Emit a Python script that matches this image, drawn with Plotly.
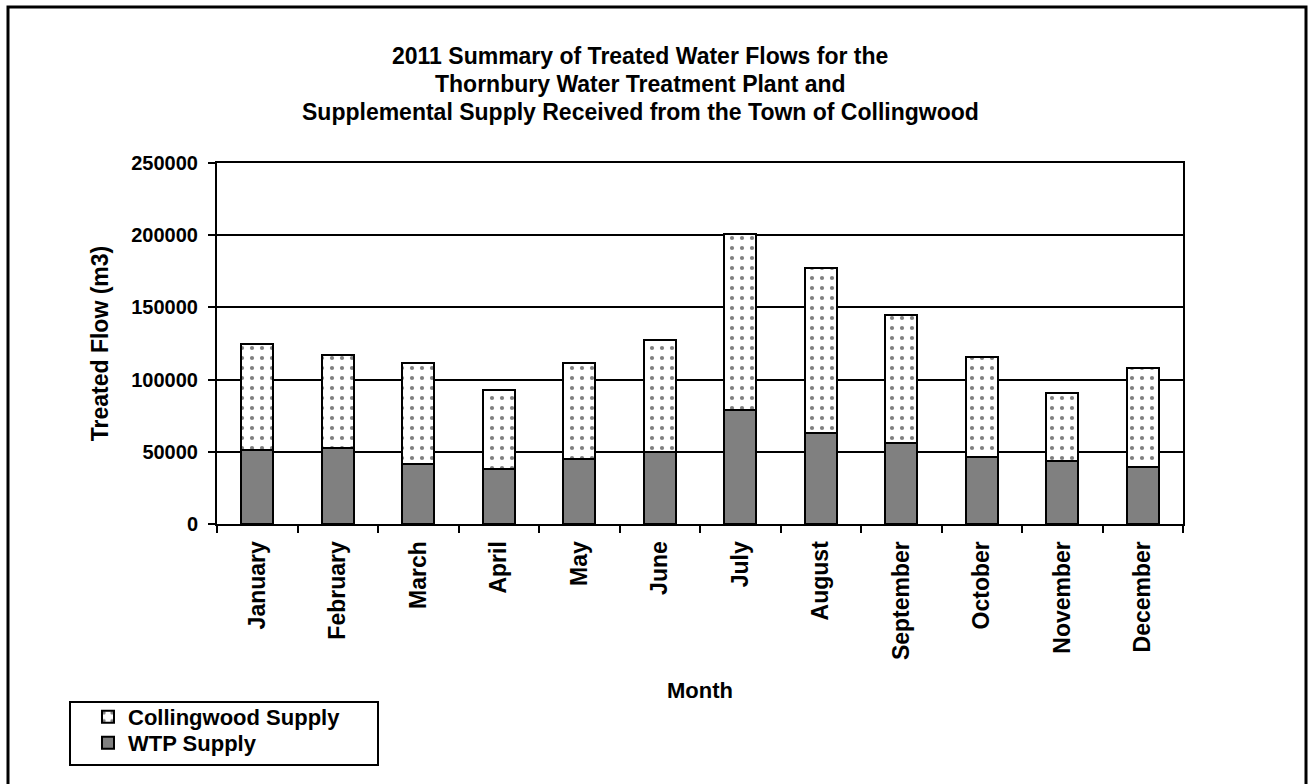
import plotly.graph_objects as go

months = ["January", "February", "March", "April", "May", "June", "July",
          "August", "September", "October", "November", "December"]
wtp_supply = [51300, 52500, 41600, 38100, 44800, 49700, 79000, 62900, 55900, 46700, 43900, 39700]
total_flow = [124500, 116700, 111800, 93100, 111800, 127500, 201000, 177400, 144400, 116000, 91000, 108100]
collingwood_supply = [t - w for t, w in zip(total_flow, wtp_supply)]

y_ticks = [0, 50000, 100000, 150000, 200000, 250000]
title_lines = ["2011 Summary of Treated Water Flows for the",
               "Thornbury Water Treatment Plant and",
               "Supplemental Supply Received from the Town of Collingwood"]

FONT = "Liberation Sans, Arial, sans-serif"

W, H = 1308, 784
L, R, T, B = 217, 125, 163, 260
pw, ph = W - L - R, H - T - B

def px_x(x):
    return (x - L) / pw

def px_y(y):
    return (H - B - y) / ph

fig = go.Figure()
fig.add_trace(go.Bar(
    x=months, y=wtp_supply, name="<b>WTP Supply</b>",
    marker=dict(color="#808080", line=dict(color="black", width=2)),
    width=0.4, legend="legend2",
))
fig.add_trace(go.Bar(
    x=months, y=collingwood_supply, name="<b>Collingwood Supply</b>",
    marker=dict(color="white", line=dict(color="black", width=2),
                pattern=dict(shape=".", fgcolor="black", bgcolor="white",
                             size=10, solidity=0.14)),
    width=0.4, legend="legend",
))

annotations = []
for i, line in enumerate(title_lines):
    annotations.append(dict(
        text=f"<b>{line}</b>", xref="paper", yref="paper",
        x=px_x(640), y=px_y(56 + 28 * i), xanchor="center", yanchor="middle",
        showarrow=False, font=dict(size=23, family=FONT, color="black"),
    ))

legend_common = dict(
    xanchor="left", yanchor="top",
    font=dict(size=22, family=FONT),
    bgcolor="rgba(0,0,0,0)", borderwidth=0,
    itemclick=False,
)

fig.update_layout(
    width=W, height=H,
    margin=dict(l=L, r=R, t=T, b=B),
    barmode="stack",
    paper_bgcolor="white", plot_bgcolor="white",
    font=dict(family=FONT, color="black"),
    annotations=annotations,
    xaxis=dict(
        title=dict(text="<b>Month</b>", font=dict(size=22), standoff=24),
        tickangle=-90,
        tickfont=dict(size=23, family=FONT),
        tickprefix="<b>", ticksuffix="</b>",
        ticks="outside", tickson="boundaries", ticklen=7, tickwidth=2, tickcolor="black",
        ticklabelstandoff=6,
        showline=True, linecolor="black", linewidth=2, mirror=True,
        showgrid=False,
    ),
    yaxis=dict(
        title=dict(text="<b>Treated Flow (m3)</b>", font=dict(size=23), standoff=16),
        range=[0, 250000], tickvals=y_ticks, ticktext=[f"<b>{v}</b>" for v in y_ticks],
        tickfont=dict(size=20, family=FONT),
        ticks="outside", ticklen=7, tickwidth=2, tickcolor="black",
        ticklabelstandoff=6,
        showline=True, linecolor="black", linewidth=2, mirror=True,
        showgrid=True, gridcolor="black", gridwidth=1.5,
        zeroline=False,
    ),
    legend=dict(x=px_x(88), y=px_y(696), **legend_common),
    legend2=dict(x=px_x(88), y=px_y(722), **legend_common),
    showlegend=True,
    shapes=[
        dict(type="rect", xref="paper", yref="paper",
             x0=px_x(8), x1=px_x(1306), y0=px_y(790), y1=px_y(7),
             line=dict(color="black", width=3), fillcolor="rgba(0,0,0,0)", layer="below"),
        dict(type="rect", xref="paper", yref="paper",
             x0=px_x(70), x1=px_x(378), y0=px_y(765), y1=px_y(702),
             line=dict(color="black", width=2), fillcolor="rgba(0,0,0,0)"),
    ],
)

fig.write_html("out.html")
